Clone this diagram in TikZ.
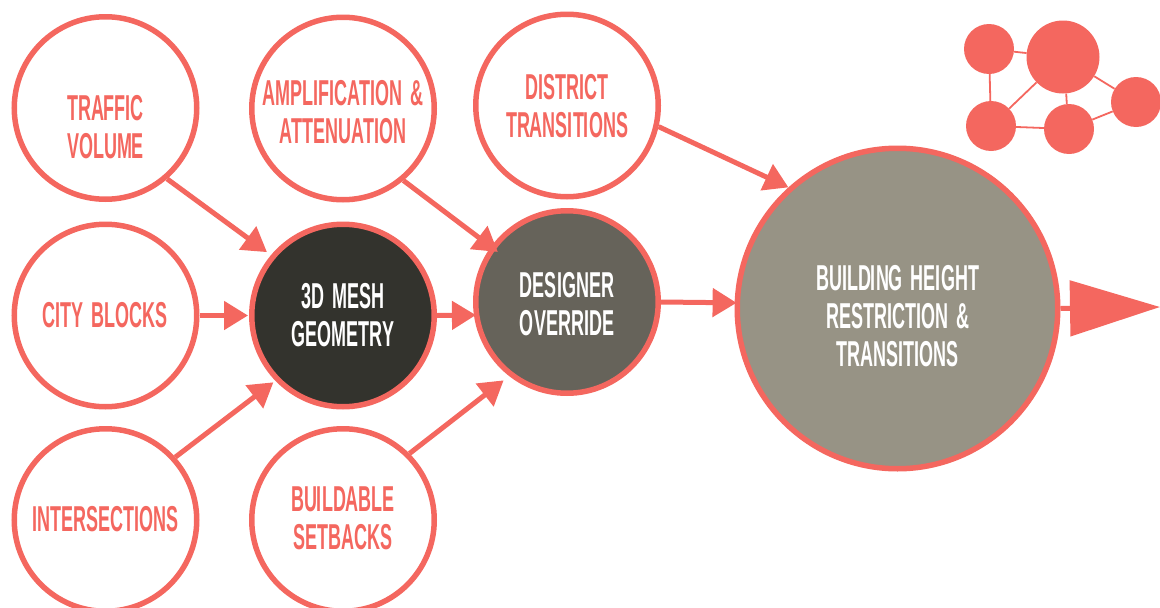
\documentclass[tikz,border=0pt]{standalone}
\usepackage{fontspec}
\usepackage{tikz}
\usetikzlibrary{arrows.meta}
\setmainfont[FakeStretch=0.5,WordSpace=1.6]{Liberation Sans Bold}
\definecolor{coral}{HTML}{F4675F}
\definecolor{meshfill}{HTML}{33332D}
\definecolor{overridefill}{HTML}{66635A}
\definecolor{heightfill}{HTML}{979385}

\begin{document}
\begin{tikzpicture}[x=1pt,y=-1pt,
    ring/.style={circle,draw=coral,line width=5.5pt,minimum size=182.5pt,inner sep=0pt},
    caption/.style={align=center,font=\fontsize{36}{38}\selectfont,inner sep=0pt},
    flow/.style={draw=coral,line width=5pt,-{Triangle[length=24pt,width=28pt]}},
    dot/.style={circle,fill=coral,inner sep=0pt},
    link/.style={draw=coral,line width=1.8pt}]
  \useasboundingbox (0,0) rectangle (1160,608);
  \node[ring] (traffic) at (105.5,108) {};
  \node[caption,coral] (traffictext) at (105.5,127) {TRAFFIC\\VOLUME};
  \node[ring] (blocks) at (105.5,315.5) {};
  \node[caption,coral] (blockstext) at (105.5,315) {CITY BLOCKS};
  \node[ring] (crossings) at (105.5,520) {};
  \node[caption,coral] (crossingstext) at (105.5,519) {INTERSECTIONS};
  \node[ring] (amp) at (343,108.5) {};
  \node[caption,coral] (amptext) at (343,112) {AMPLIFICATION \&\\ATTENUATION};
  \node[ring] (setbacks) at (343,520) {};
  \node[caption,coral] (setbackstext) at (343,518) {BUILDABLE\\SETBACKS};
  \node[ring] (district) at (567,105.5) {};
  \node[caption,coral] (districttext) at (567,106) {DISTRICT\\TRANSITIONS};
  \node[ring,fill=meshfill] (mesh) at (343,315.5) {};
  \node[caption,white] (meshtext) at (343,315) {3D MESH\\GEOMETRY};
  \node[ring,fill=overridefill] (override) at (567,302) {};
  \node[caption,white] (overridetext) at (567,304) {DESIGNER\\OVERRIDE};
  \node[ring,fill=heightfill,minimum size=320.5pt] (height) at (897.5,308.5) {};
  \node[caption,white] (heighttext) at (897.5,316) {BUILDING HEIGHT\\RESTRICTION \&\\TRANSITIONS};

  \draw[flow,shorten >=5pt] (traffic.-49) -- (mesh.140.6);
  \draw[flow,shorten >=1pt] (blocks.east) -- (mesh.west);
  \draw[flow,shorten >=2.5pt] (crossings.42) -- (mesh.224);
  \draw[flow,shorten >=-2pt] (mesh.east) -- (override.188.5);
  \draw[flow,shorten >=-8.6pt] (amp.-50) -- (override.144.6);
  \draw[flow,shorten >=7pt] (setbacks.45.4) -- (override.232.7);
  \draw[flow,shorten >=-2pt] (override.east) -- (height.178);
  \draw[flow] (district.-13.4) -- (height.132.7);
  \coordinate (outlet) at (1160,307);
  \draw[flow,-{Triangle[length=90pt,width=55pt]}] (height.0.5) -- (outlet);

  \node[dot,minimum size=50pt] (netleft) at (989,49) {};
  \node[dot,minimum size=73pt] (nethub) at (1063,57) {};
  \node[dot,minimum size=50pt] (netright) at (1136,102) {};
  \node[dot,minimum size=50pt] (netlow) at (991,126) {};
  \node[dot,minimum size=50pt] (netmid) at (1069,129) {};
  \draw[link] (netleft) -- (nethub);
  \draw[link] (netleft) -- (netlow);
  \draw[link] (nethub) -- (netlow);
  \draw[link] (nethub) -- (netright);
  \draw[link] (nethub.-85) -- (netmid.95);
  \draw[link] (netlow) -- (netmid);
  \draw[link] (netmid) -- (netright);
\end{tikzpicture}
\end{document}
